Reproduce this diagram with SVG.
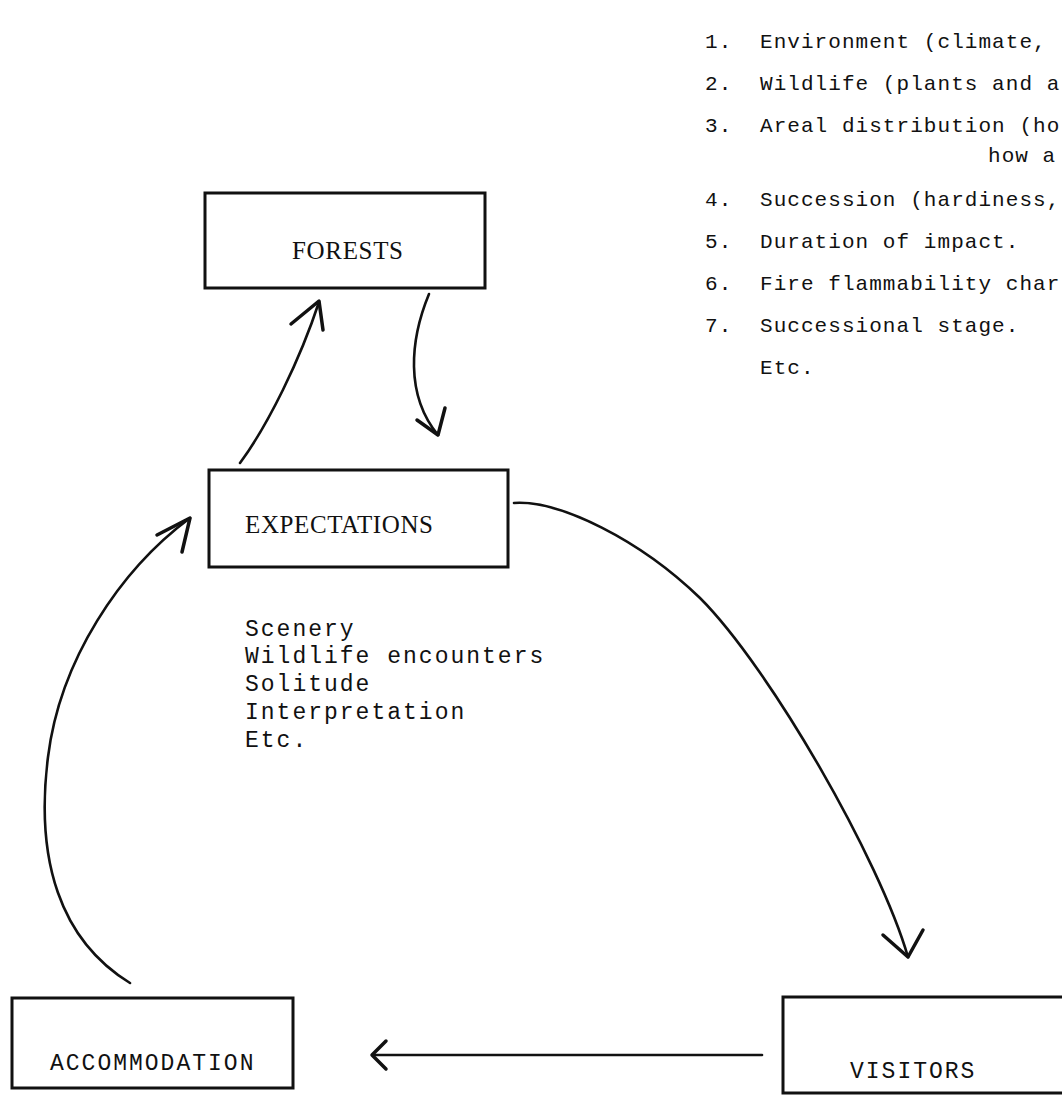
<svg xmlns="http://www.w3.org/2000/svg" width="1062" height="1099" viewBox="0 0 1062 1099">
<style>
.box{fill:none;stroke:#111;stroke-width:3}
.lbl{font-family:"Liberation Serif",serif;font-size:25px;fill:#111}
.mono{font-family:"Liberation Mono","Courier New",monospace;font-size:23px;letter-spacing:2px;fill:#111}
.mono2{font-family:"Liberation Mono","Courier New",monospace;font-size:21px;letter-spacing:1.05px;fill:#111}
.con{fill:none;stroke:#111;stroke-width:2.6;stroke-linecap:round;stroke-linejoin:round}
.head{fill:none;stroke:#111;stroke-width:3.5;stroke-linecap:round;stroke-linejoin:round}
</style>
<rect width="1062" height="1099" fill="#fff"/>
<g id="forests"><rect class="box" x="205" y="193" width="280" height="95"/><text class="lbl" x="292" y="259" textLength="111">FORESTS</text></g>
<g id="expectations"><rect class="box" x="209" y="470" width="299" height="97"/><text class="lbl" x="245" y="533" textLength="188">EXPECTATIONS</text></g>
<g id="accommodation"><rect class="box" x="12" y="998" width="281" height="90"/><text class="mono" x="50" y="1070">ACCOMMODATION</text></g>
<g id="visitors"><rect class="box" x="783" y="997" width="282" height="96"/><text class="mono" x="850" y="1078">VISITORS</text></g>
<g id="expectation-list" class="mono">
<text x="245" y="636">Scenery</text>
<text x="245" y="663">Wildlife encounters</text>
<text x="245" y="691">Solitude</text>
<text x="245" y="719">Interpretation</text>
<text x="245" y="747">Etc.</text>
</g>
<g id="forest-list" class="mono2">
<text x="705" y="48">1.</text><text x="760" y="48">Environment (climate,</text>
<text x="705" y="90">2.</text><text x="760" y="90">Wildlife (plants and a</text>
<text x="705" y="132">3.</text><text x="760" y="132">Areal distribution (ho</text>
<text x="988" y="162">how a</text>
<text x="705" y="206">4.</text><text x="760" y="206">Succession (hardiness,</text>
<text x="705" y="248">5.</text><text x="760" y="248">Duration of impact.</text>
<text x="705" y="290">6.</text><text x="760" y="290">Fire flammability char</text>
<text x="705" y="332">7.</text><text x="760" y="332">Successional stage.</text>
<text x="760" y="374">Etc.</text>
</g>
<g id="connectors">
<path class="con" d="M240,463 C268,425 300,360 319,302"/>
<path class="head" d="M291,324 L319,301 L323,330"/>
<path class="con" d="M429,294 C410,340 405,395 438,435"/>
<path class="head" d="M417,420 L438,435 L445,408"/>
<path class="con" d="M514,503 C560,500 640,540 700,598 C770,668 880,860 908,957"/>
<path class="head" d="M883,935 L908,957 L923,930"/>
<path class="con" d="M762,1055 L374,1055"/>
<path class="head" d="M386,1041 L372,1055 L386,1069"/>
<path class="con" d="M130,983 C60,940 35,860 48,757 C60,660 120,570 190,518"/>
<path class="head" d="M157,535 L190,518 L182,552"/>
</g>
</svg>
